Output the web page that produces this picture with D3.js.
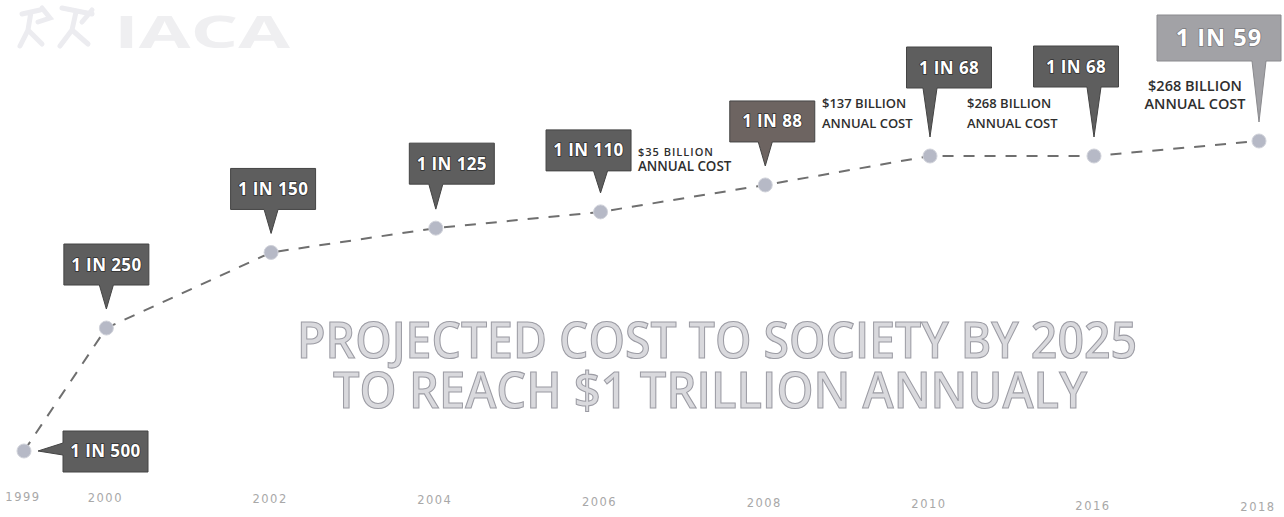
<!doctype html>
<html>
<head>
<meta charset="utf-8">
<title>1 in N</title>
<script src="https://cdn.jsdelivr.net/npm/d3@7"></script>
<style>
  body { margin:0; background:#ffffff; }
  svg { display:block; }
</style>
</head>
<body>
<script>
var w = 1284, h = 517;

// data
var years = [1999, 2000, 2002, 2004, 2006, 2008, 2010, 2016, 2018];
var oneIn = [500, 250, 150, 125, 110, 88, 68, 68, 59];
var costYears = [2006, 2008, 2010, 2018];
var costLabels = ["$35 BILLION", "$137 BILLION", "$268 BILLION", "$268 BILLION"];
var titleLines = ["PROJECTED COST TO SOCIETY BY 2025", "TO REACH $1 TRILLION ANNUALY"];

var data = years.map(function(y, i) { return {year: y, n: oneIn[i]}; });

// axis is broken after 2010, so piecewise linear
var x = d3.scaleLinear()
  .domain([1999, 2010, 2016, 2018])
  .range([24, 930, 1094, 1259]);

var y = d3.scalePow().exponent(0.3)
  .domain([500, 59])
  .range([451, 141]);

var svg = d3.select("body").append("svg")
  .attr("width", w)
  .attr("height", h);

// faded logo
var logo = svg.append("g");
logo.append("text")
  .attr("x", 114).attr("y", 48)
  .attr("textLength", 176)
  .attr("lengthAdjust", "spacingAndGlyphs")
  .attr("font-family", "Open Sans")
  .attr("font-weight", 700)
  .attr("font-size", 45)
  .attr("fill", "#efeff1")
  .text("IACA");
logo.selectAll("path")
  .data(["M22,14 L40,10 M31,12 L28,30 L20,46 M28,30 L42,44 M42,8 L50,18 L38,22",
         "M62,8 L92,14 M76,12 L72,30 L60,46 M72,30 L88,44 M92,10 L82,22"])
  .enter().append("path")
  .attr("d", function(d) { return d; })
  .attr("fill", "none")
  .attr("stroke", "#ececf0")
  .attr("stroke-width", 5)
  .attr("stroke-linecap", "round");

// big projected cost text
svg.selectAll(".title")
  .data(titleLines)
  .enter().append("text")
  .attr("class", "title")
  .attr("x", function(d, i) { return i == 0 ? 717 : 710; })
  .attr("y", function(d, i) { return 358 + i * 50; })
  .attr("text-anchor", "middle")
  .attr("textLength", function(d, i) { return i == 0 ? 840 : 754; })
  .attr("lengthAdjust", "spacingAndGlyphs")
  .attr("font-family", "Open Sans")
  .attr("font-weight", 600)
  .attr("font-size", 50)
  .attr("fill", "#d9d9dd")
  .attr("stroke", "#9c9ca4")
  .attr("stroke-width", 1.1)
  .text(function(d) { return d; });

// x labels (the scan is a bit tilted, labels drop slightly to the right)
svg.selectAll(".yr")
  .data(data)
  .enter().append("text")
  .attr("class", "yr")
  .attr("x", function(d) { return x(d.year) - 1; })
  .attr("y", function(d) { return 501 + x(d.year) * 0.008; })
  .attr("text-anchor", "middle")
  .attr("font-family", "DejaVu Sans")
  .attr("font-size", 11.5)
  .attr("letter-spacing", 1.5)
  .attr("fill", "#a8a8a8")
  .text(function(d) { return d.year; });

// dashed line + dots
var line = d3.line()
  .x(function(d) { return x(d.year); })
  .y(function(d) { return y(d.n); });

svg.append("path")
  .datum(data)
  .attr("d", line)
  .attr("fill", "none")
  .attr("stroke", "#6f6f6f")
  .attr("stroke-width", 2)
  .attr("stroke-dasharray", "11,10");

svg.selectAll("circle")
  .data(data)
  .enter().append("circle")
  .attr("cx", function(d) { return x(d.year); })
  .attr("cy", function(d) { return y(d.n); })
  .attr("r", 7)
  .attr("fill", "#b6b9c6")
  .attr("stroke", "#d0d2da")
  .attr("stroke-width", 1);

// callout layout: box centre offset from the dot and pointer length
var nudge = {2000: 0, 2002: 2, 2004: 16, 2006: -12, 2008: 7, 2010: 19, 2016: -18, 2018: -40};
var stem = {2000: 24, 2002: 24, 2004: 25, 2006: 22, 2008: 24, 2010: 49, 2016: 50, 2018: 61};
var boxFill = {2008: "#6d6461", 2018: "#a2a2a6"};

data.forEach(function(d) {
  var cx = x(d.year), cy = y(d.n);
  var big = d.year == 2018;
  var bw = big ? 124 : 85, bh = big ? 46 : 41;
  var g = svg.append("g");
  var p;
  var tx, ty;
  if (d.year == 1999) {
    // pointer to the left
    var tip = cx + 14, bx = cx + 39, by = cy - 20;
    p = "M" + tip + "," + cy + " L" + bx + "," + (cy - 8) + " L" + bx + "," + by +
        " h" + bw + " v" + bh + " h" + (-bw) + " L" + bx + "," + (cy + 4) + " Z";
    tx = bx + bw / 2; ty = cy + 6;
  } else {
    var tipY = cy - 19;
    var bottom = tipY - stem[d.year];
    var bcx = cx + nudge[d.year];
    var bx = bcx - bw / 2, by = bottom - bh;
    p = "M" + cx + "," + tipY + " L" + (cx - 7) + "," + bottom + " L" + bx + "," + bottom +
        " V" + by + " H" + (bx + bw) + " V" + bottom + " L" + (cx + 7) + "," + bottom + " Z";
    tx = bcx; ty = by + bh / 2 + (big ? 8 : 6);
  }
  g.append("path")
    .attr("d", p)
    .attr("fill", boxFill[d.year] || "#5e5e5e")
    .attr("stroke", big ? "#8a8a8e" : "#444444")
    .attr("stroke-width", 1);
  g.append("text")
    .attr("x", tx).attr("y", ty)
    .attr("text-anchor", "middle")
    .attr("font-family", "Open Sans")
    .attr("font-weight", 700)
    .attr("font-size", big ? 23.5 : 17)
    .attr("letter-spacing", big ? 1 : 0.4)
    .attr("fill", "#ffffff")
    .attr("stroke", big ? "#7a7a7e" : "#2e2e2e")
    .attr("stroke-width", 1.5)
    .attr("paint-order", "stroke")
    .text("1 IN " + d.n);
});

// annual cost notes: x, baseline, size of first line, line gap
var costPos = {2006: [638, 156, 11, 15], 2008: [822, 108, 13, 20], 2010: [967, 108, 13, 20], 2018: [1195, 91, 14.5, 18]};
costYears.forEach(function(yr, i) {
  var c = costPos[yr];
  var t = svg.append("text")
    .attr("x", c[0]).attr("y", c[1])
    .attr("text-anchor", yr == 2018 ? "middle" : "start")
    .attr("font-family", "Open Sans")
    .attr("font-weight", 600)
    .attr("font-size", c[2])
    .attr("fill", "#2e2e2e");
  t.append("tspan").attr("x", c[0]).attr("dy", 0)
    .attr("letter-spacing", yr == 2006 ? 1 : 0)
    .text(costLabels[i]);
  t.append("tspan").attr("x", c[0]).attr("dy", c[3])
    .attr("font-size", yr == 2006 ? 13.4 : c[2])
    .text("ANNUAL COST");
});
</script>
</body>
</html>
